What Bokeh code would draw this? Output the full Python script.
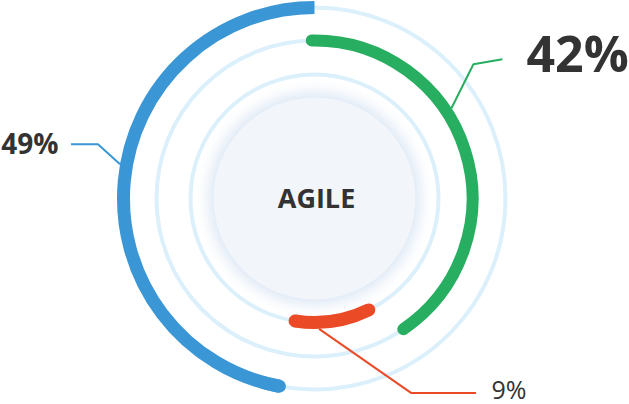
import numpy as np
from bokeh.plotting import figure
from bokeh.models import Range1d
from bokeh.core.properties import value
from bokeh.embed import file_html
from bokeh.resources import INLINE

# ---- data ----
series = ["Blue", "Green", "Red"]
values = [49, 42, 9]
labels = ["49%", "42%", "9%"]
center_label = "AGILE"

# ---- styling ----
W, H = 629, 404
CX, CY = 314, 206
colors = ["#3a96d5", "#27ae60", "#ea4a26"]
radii = [191, 158, 124]
widths = [13, 12, 13]
ring_color = "#dcf0fc"
text_color = "#333333"

p = figure(width=W, height=H, x_range=Range1d(0, W), y_range=Range1d(0, H),
           output_backend="svg", toolbar_location=None, min_border=0)
p.xaxis.visible = False
p.yaxis.visible = False
p.grid.visible = False
p.outline_line_color = None
p.background_fill_color = "white"
p.border_fill_color = "white"

# light track rings
p.circle(x=[CX] * 3, y=[CY] * 3, radius=radii, fill_color=None,
         line_color=ring_color, line_width=4)

# soft glow around the inner disk (opaque gradient steps)
glow_r = list(range(120, 100, -1))
edge = np.array([226, 235, 246])
white = np.array([255, 255, 255])
glow_c = []
for r in glow_r:
    t = ((120 - r) / 19.0) ** 1.6
    c = (white * (1 - t) + edge * t).round().astype(int)
    glow_c.append("#%02x%02x%02x" % tuple(c))
p.circle(x=[CX] * len(glow_r), y=[CY] * len(glow_r), radius=glow_r,
         fill_color=glow_c, line_color=None)
p.circle(x=[CX], y=[CY], radius=[101], fill_color="#f2f6fb", line_color=None)

deg = 3.6
# green: clockwise from top
g_start = 91
g_end = g_start - values[1] * deg + 4.4
p.arc(x=CX, y=CY, radius=radii[1], start_angle=g_start, end_angle=g_end,
      start_angle_units="deg", end_angle_units="deg", direction="clock",
      line_color=colors[1], line_width=widths[1], line_cap="round")

# red: continues after green
r_start = 90 - values[1] * deg - 2.8
r_end = r_start - values[2] * deg - 2.6
p.arc(x=CX, y=CY, radius=radii[2], start_angle=r_start, end_angle=r_end,
      start_angle_units="deg", end_angle_units="deg", direction="clock",
      line_color=colors[2], line_width=widths[2], line_cap="round")

# blue: anticlockwise from top
b_start = 90
b_end = b_start + values[0] * deg - 7
p.arc(x=CX, y=CY, radius=radii[0], start_angle=b_start, end_angle=b_end,
      start_angle_units="deg", end_angle_units="deg", direction="anticlock",
      line_color=colors[0], line_width=widths[0], line_cap="butt")
p.arc(x=CX, y=CY, radius=radii[0], start_angle=b_end - 5, end_angle=b_end,
      start_angle_units="deg", end_angle_units="deg", direction="anticlock",
      line_color=colors[0], line_width=widths[0], line_cap="round")

# leader lines (anchor angle on arc, then elbow & end offsets)
anchor_angles = [170, 33.4, -88]
elbows = [(-22, 20), (22, 44), (92, -64)]
ends = [(-49, 20), (51, 49), (157, -64)]
for i in range(3):
    a = np.radians(anchor_angles[i])
    rr = radii[i] + widths[i] / 2
    sx, sy = CX + rr * np.cos(a), CY + rr * np.sin(a)
    xs = [sx, sx + elbows[i][0], sx + ends[i][0]]
    ys = [sy, sy + elbows[i][1], sy + ends[i][1]]
    p.line(xs, ys, line_color=colors[i], line_width=2)

# percentage labels
p.text(x=[58], y=[262], text=[labels[0]], text_font=value("Open Sans"),
       text_font_style="bold", text_font_size="28px", text_align="right",
       text_baseline="middle", text_color=text_color)
p.text(x=[526], y=[352], text=[labels[1]], text_font=value("Open Sans"),
       text_font_style="bold", text_font_size="50px", text_align="left",
       text_baseline="middle", text_color=text_color)
p.text(x=[491], y=[16], text=[labels[2]], text_font=value("Open Sans"),
       text_font_style="normal", text_font_size="25px", text_align="left",
       text_baseline="middle", text_color=text_color)

# centre label
p.text(x=[316], y=[207], text=[center_label], text_font=value("Open Sans"),
       text_font_style="bold", text_font_size="27px", text_align="center",
       text_baseline="middle", text_color=text_color)

open("out.html", "w").write(file_html(p, INLINE))
